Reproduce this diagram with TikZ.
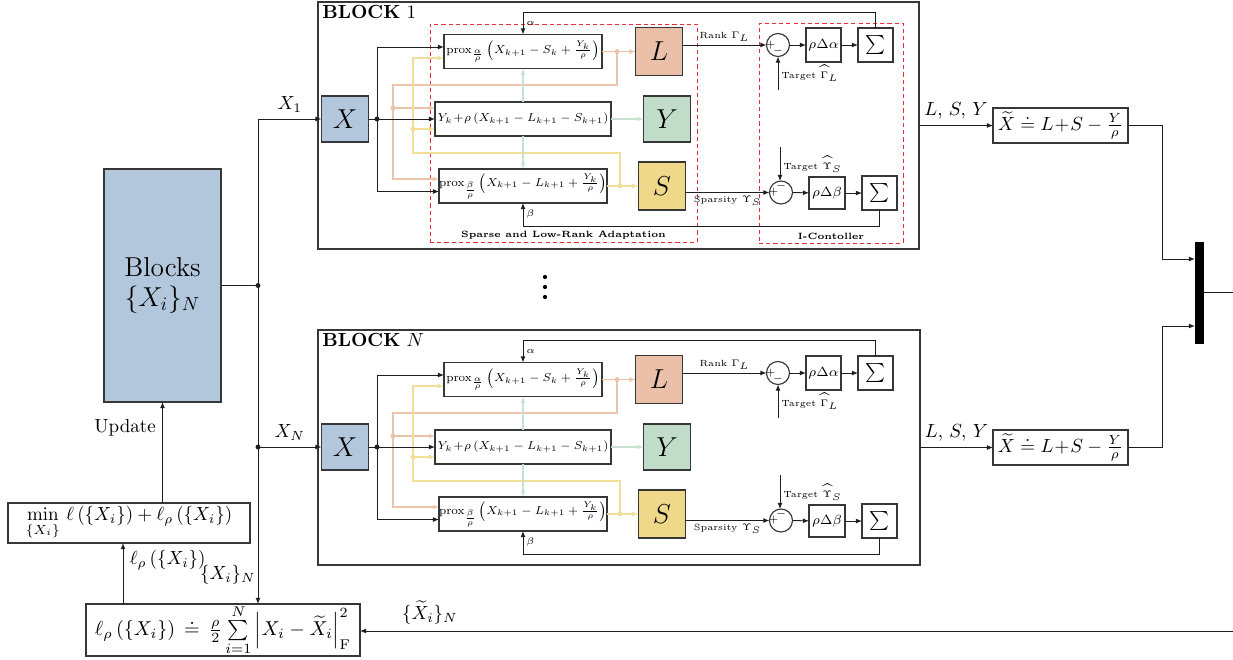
\documentclass[tikz,border=0pt]{standalone}
\usepackage{graphicx}
\usetikzlibrary{arrows.meta,calc}
\definecolor{cX}{RGB}{178,199,219}
\definecolor{cL}{RGB}{234,193,168}
\definecolor{cY}{RGB}{193,221,202}
\definecolor{cS}{RGB}{240,216,139}
\definecolor{cOl}{RGB}{236,196,172}
\definecolor{cYl}{RGB}{242,222,150}
\definecolor{cGl}{RGB}{200,226,210}
\definecolor{cRed}{RGB}{236,45,55}
\definecolor{cEdge}{RGB}{55,55,55}
\definecolor{cLine}{RGB}{30,30,30}
\newcommand{\shrinkit}[1]{\scalebox{0.87}{#1}}
\tikzset{
  sz/.style 2 args={minimum width=#1*0.5263pt, minimum height=#2*0.5263pt},
  bx/.style={draw=cEdge, line width=0.6pt, inner sep=0pt, outer sep=0pt},
  cbox/.style={bx, font=\fontsize{15}{18}\selectfont},
  fbox/.style={bx, font=\scriptsize},
  sbox/.style={bx, font=\scriptsize},
  sumc/.style={draw=cEdge, line width=0.6pt, circle, minimum size=23*0.5263pt, inner sep=0pt, outer sep=0pt},
  lbl/.style={font=\fontsize{4.7}{5.5}\selectfont, inner sep=1.5pt},
  sgn/.style={font=\fontsize{5}{5}\selectfont, inner sep=0pt},
  ar/.style={-{Latex[length=3.2pt,width=2.6pt]}, line width=0.5pt, draw=cLine},
  ln/.style={line width=0.5pt, draw=cLine},
  oar/.style={-{Latex[length=3.2pt,width=2.6pt]}, line width=0.7pt, draw=cOl},
  yar/.style={-{Latex[length=3.2pt,width=2.6pt]}, line width=0.7pt, draw=cYl},
  gar/.style={-{Latex[length=3.2pt,width=2.6pt]}, line width=0.7pt, draw=cGl},
  rdash/.style={draw=cRed, dash pattern=on 2.2pt off 1.6pt, line width=0.5pt, inner sep=0pt, outer sep=0pt},
  grp/.style={font=\fontsize{4.8}{5.5}\selectfont\bfseries, inner sep=0pt, anchor=south},
}
\newcommand{\myblock}[2]{%
  \node[cbox, sz={47}{46}, fill=cX] (X#1) at (345,119+#2) {$X$};
  \node[fbox, sz={158}{34}] (PL#1) at (523,51.5+#2) {\shrinkit{$\mathrm{prox}_{\frac{\alpha}{\rho}}\left(X_{k+1}-S_k+\frac{Y_k}{\rho}\right)$}};
  \node[fbox, sz={176}{34}] (PY#1) at (523,119+#2) {\shrinkit{$Y_k\!+\!\rho\left(X_{k+1}-L_{k+1}-S_{k+1}\right)$}};
  \node[fbox, sz={166}{34}] (PS#1) at (523,186+#2) {\shrinkit{$\mathrm{prox}_{\frac{\beta}{\rho}}\left(X_{k+1}-L_{k+1}+\frac{Y_k}{\rho}\right)$}};
  \node[cbox, sz={47}{48}, fill=cL] (L#1) at (659,51.5+#2) {$L$};
  \node[cbox, sz={47}{46}, fill=cY] (Y#1) at (667,119+#2) {$Y$};
  \node[cbox, sz={47}{48}, fill=cS] (S#1) at (662,186+#2) {$S$};
  \node[sumc] (CL#1) at (778,45+#2) {};
  \node[sbox, sz={35}{34}] (DA#1) at (823.5,45+#2) {$\rho\Delta\alpha$};
  \node[bx, sz={35}{34}] (SA#1) at (875.5,45+#2) {\large$\sum$};
  \node[sumc] (CS#1) at (781,192.5+#2) {};
  \node[sbox, sz={36}{32}] (DB#1) at (827,193+#2) {$\rho\Delta\beta$};
  \node[bx, sz={35}{34}] (SB#1) at (879.5,193+#2) {\large$\sum$};
  \node[sgn] (pA#1) at ($(CL#1.center)+(-7.5,0)$) {$+$};
  \node[sgn] (mA#1) at ($(CL#1.center)+(0,6.5)$) {$-$};
  \node[sgn] (pB#1) at ($(CS#1.center)+(-7.5,0)$) {$+$};
  \node[sgn] (mB#1) at ($(CS#1.center)+(0,-6.5)$) {$-$};
  \coordinate (J#1) at (377,119+#2);
  \coordinate (OA#1) at (617,51.5+#2);
  \coordinate (OB#1) at (393,108+#2);
  \coordinate (YA#1) at (620,186+#2);
  \coordinate (YB#1) at (413,129+#2);
  \draw[oar] (PL#1.east) -- (L#1.west);
  \draw[oar] (OA#1) -- ++(0,33.5) -- ++(-224,0) |- ($(PS#1.west)+(0,-7)$);
  \draw[oar] (OB#1) -- ($(PY#1.west)+(0,-11)$);
  \draw[yar] (PS#1.east) -- (S#1.west);
  \draw[yar] (YA#1) -- ++(0,-33) -- ++(-207,0) |- ($(PL#1.west)+(0,6.5)$);
  \draw[yar] (YB#1) -- ($(PY#1.west)+(0,10)$);
  \draw[gar] (PY#1.east) -- (Y#1.west);
  \draw[gar] (PY#1.north) -- (PL#1.south);
  \draw[gar] (PY#1.south) -- (PS#1.north);
  \fill[cOl] (OA#1) circle (1.3pt) (OB#1) circle (1.3pt);
  \fill[cYl] (YA#1) circle (1.3pt) (YB#1) circle (1.3pt);
  \draw[ar] (X#1.east) -- (PY#1.west);
  \draw[ar] (J#1) |- ($(PL#1.west)+(0,-4.5)$);
  \draw[ar] (J#1) |- ($(PS#1.west)+(0,5.5)$);
  \fill[cLine] (J#1) circle (1.3pt);
  \draw[ar] (L#1.east |- CL#1) -- node[lbl, above]{Rank $\Gamma_L$} (CL#1.west);
  \draw[ar] (CL#1) -- (DA#1);
  \draw[ar] (DA#1) -- (SA#1);
  \draw[ar] ($(CL#1.south)+(0,33.5)$) -- node[lbl, right]{Target $\widehat{\Gamma}_L$} (CL#1.south);
  \draw[ar] (SA#1.north) -- ++(0,-16) -| node[lbl, pos=0.75, right]{$\alpha$} (PL#1.north);
  \draw[ar] (S#1.east |- CS#1) -- node[lbl, below]{Sparsity $\Upsilon_S$} (CS#1.west);
  \draw[ar] (CS#1) -- (DB#1);
  \draw[ar] (DB#1) -- (SB#1);
  \draw[ar] ($(CS#1.north)+(-1,-34)$) -- node[lbl, right]{Target $\widehat{\Upsilon}_S$} ($(CS#1.north)+(-1,0)$);
  \draw[ar] (SB#1.south) -- ++(0,16) -| node[lbl, pos=0.75, right]{$\beta$} (PS#1.south);
}
\begin{document}
\begin{tikzpicture}[x=0.5263pt, y=-0.5263pt]
\useasboundingbox (0,0) rectangle (1233,659);
% block frames
\node[bx, sz={601}{247}] (B1) at (618.5,125.5) {};
\node[bx, sz={602}{235}] (BN) at (619,447.5) {};
\node[anchor=north west, inner sep=0pt] (T1) at ($(B1.north west)+(4,3)$) {\textbf{BLOCK} $1$};
\node[anchor=north west, inner sep=0pt] (TN) at ($(BN.north west)+(4,3)$) {\textbf{BLOCK} $N$};
% red dashed groups
\node[rdash, sz={267}{218}] (SL) at (563.5,133) {};
\node[grp] (SLt) at ($(SL.south)+(0,-2.5)$) {Sparse and Low-Rank Adaptation};
\node[rdash, sz={144}{220}] (IC) at (831,133) {};
\node[grp] (ICt) at ($(IC.south)+(0,-2.5)$) {I-Contoller};
\myblock{1}{0}
\myblock{N}{328}
% vertical dots
\fill (545,277) circle (1.1pt) (545,287) circle (1.1pt) (545,297) circle (1.1pt);
% left side
\node[bx, fill=cX, sz={117}{233}, align=center, font=\Large] (Blk) at (162.5,285.5) {Blocks\\[-2pt]$\{X_i\}_N$};
\node[bx, sz={242}{40}] (minb) at (129,523) {$\min\limits_{\{X_i\}}\,\ell\left(\{X_i\}\right)+\ell_\rho\left(\{X_i\}\right)$};
\node[bx, sz={274}{52}] (loss) at (223,630) {\scalebox{1.06}{$\ell_\rho\left(\{X_i\}\right)\,\doteq\,\frac{\rho}{2}\sum\limits_{i=1}^{N}\left|X_i-\widetilde{X}_i\right|_{\mathrm{F}}^2$}};
\coordinate (V1) at (258,119);
\coordinate (VJ) at (258,285.5);
\coordinate (VN) at (258,447);
\draw[ln] (Blk.east) -- (VJ);
\draw[ar] (V1) -- node[above]{$X_1$} (X1.west);
\draw[ar] (VN) -- node[above]{$X_N$} (XN.west);
\draw[ar] (V1) -- node[pos=0.94, anchor=east, inner sep=1pt]{$\{X_i\}_N$} (V1 |- loss.north);
\fill[cLine] (VJ) circle (1.3pt) (VN) circle (1.3pt);
\draw[ar] (minb.north -| Blk.south) -- node[pos=0.75, left]{Update} (Blk.south);
\coordinate (lp) at ($(loss.north west)+(37,0)$);
\draw[ar] (lp) -- node[pos=0.72, right]{$\ell_\rho\left(\{X_i\}\right)$} (lp |- minb.south);
\coordinate (Rin) at (1233,631);
\draw[ar] (Rin) -- node[pos=0.92, above]{$\{\widetilde{X}_i\}_N$} (Rin -| loss.east);
% right side
\node[bx, sz={135}{35}] (Xt1) at (1060.5,125.5) {$\widetilde{X}\doteq L\!+\!S-\frac{Y}{\rho}$};
\node[bx, sz={135}{35}] (XtN) at (1060.5,447.5) {$\widetilde{X}\doteq L\!+\!S-\frac{Y}{\rho}$};
\draw[ar] (B1.east |- Xt1) -- node[above]{$L,\,S,\,Y$} (Xt1.west);
\draw[ar] (BN.east |- XtN) -- node[above]{$L,\,S,\,Y$} (XtN.west);
\node[fill=black, inner sep=0pt, outer sep=0pt, sz={9}{102}] (bar) at (1199.5,292.5) {};
\draw[ar] (Xt1.east) -- ++(34,0) |- ($(bar.west)+(0,-33.5)$);
\draw[ar] (XtN.east) -- ++(34,0) |- ($(bar.west)+(0,33.5)$);
\coordinate (Rout) at (1233,292.5);
\draw[ln] (bar.east) -- (Rout);
\end{tikzpicture}
\end{document}
